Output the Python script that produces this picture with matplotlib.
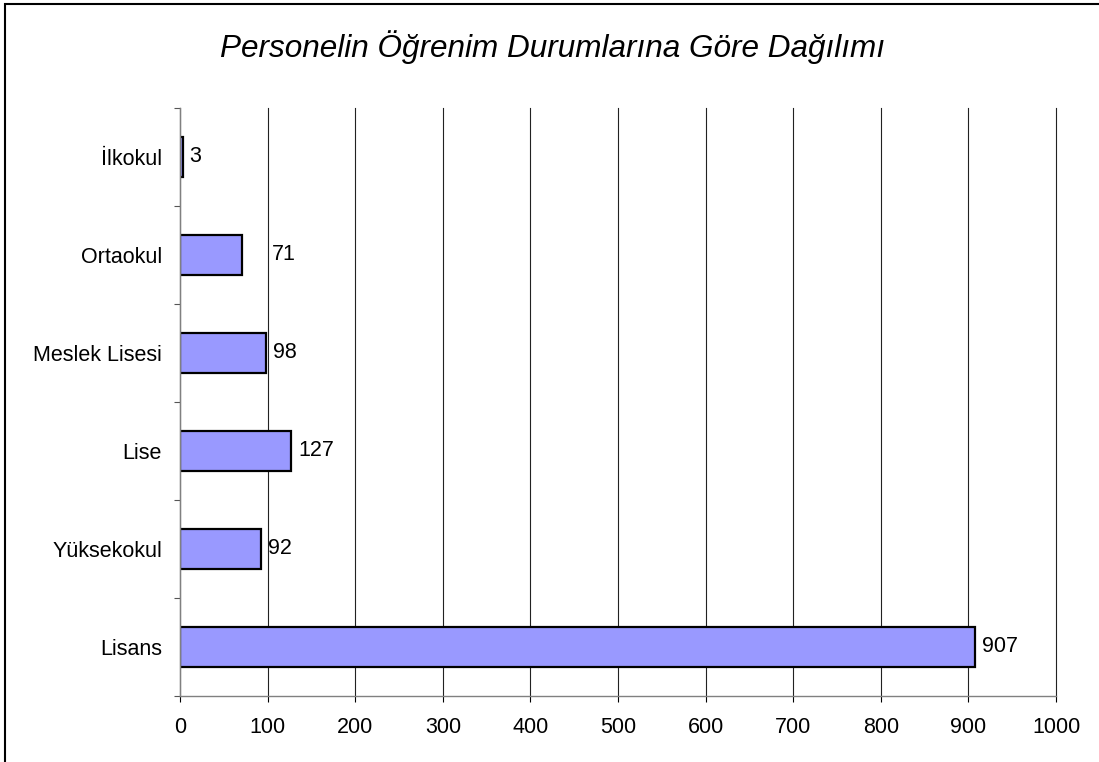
import matplotlib
matplotlib.use("Agg")
import matplotlib.pyplot as plt
from matplotlib.patches import Rectangle

categories = ["İlkokul", "Ortaokul", "Meslek Lisesi", "Lise", "Yüksekokul", "Lisans"]
values = [3, 71, 98, 127, 92, 907]
xticks = [0, 100, 200, 300, 400, 500, 600, 700, 800, 900, 1000]
title = "Personelin Öğrenim Durumlarına Göre Dağılımı"

plt.rcParams['font.family'] = ['Liberation Sans', 'DejaVu Sans']

W, H = 1099, 762
fig = plt.figure(figsize=(W / 100, H / 100), dpi=100)
ax = fig.add_axes([180 / W, 1 - 695.7 / H, (1056 - 180) / W, (695.7 - 108) / H])

pos = list(range(len(categories)))
ax.barh(pos, values, height=0.41, color="#9999FF", edgecolor="black", linewidth=1.6, zorder=3)

ax.set_xlim(0, 1000)
ax.set_ylim(len(categories) - 0.5, -0.5)
ax.set_xticks(xticks)
ax.set_xticklabels([str(t) for t in xticks], fontsize=15.5)
ax.set_yticks(pos)
ax.set_yticklabels(categories, fontsize=15.5)
ax.set_yticks([p - 0.5 for p in pos] + [len(categories) - 0.5], minor=True)
ax.tick_params(axis='y', which='major', length=0, pad=13)
ax.tick_params(axis='y', which='minor', length=4.5, width=0.8, color='#555555', direction='out')
ax.tick_params(axis='x', which='major', length=4.5, width=0.8, color='black', pad=11)

ax.grid(axis='x', color='#222222', linewidth=0.8, zorder=0)
for gl in ax.get_xgridlines():
    gl.set_clip_on(False)
for s in ['top', 'right']:
    ax.spines[s].set_visible(False)
ax.spines['left'].set_color('#808080')
ax.spines['bottom'].set_color('#808080')
ax.spines['left'].set_linewidth(1.0)
ax.spines['bottom'].set_linewidth(1.0)
ax.spines['left'].set_zorder(4)

for p, v in zip(pos, values):
    off = 30 if v == 71 else 7
    ax.annotate(str(v), xy=(v, p), xytext=(off * 0.72, 0), textcoords='offset points',
                ha='left', va='center', fontsize=15.5, zorder=5)

fig.text(552 / W, 1 - 47 / H, title, ha='center', va='center', fontsize=22.7, style='italic')

fig.patches.append(Rectangle((5 / W, -0.1), 1.2, 1 - 3.5 / H + 0.1, transform=fig.transFigure,
                             fill=False, edgecolor='black', linewidth=1.5))

fig.savefig("out.png", dpi=100)
